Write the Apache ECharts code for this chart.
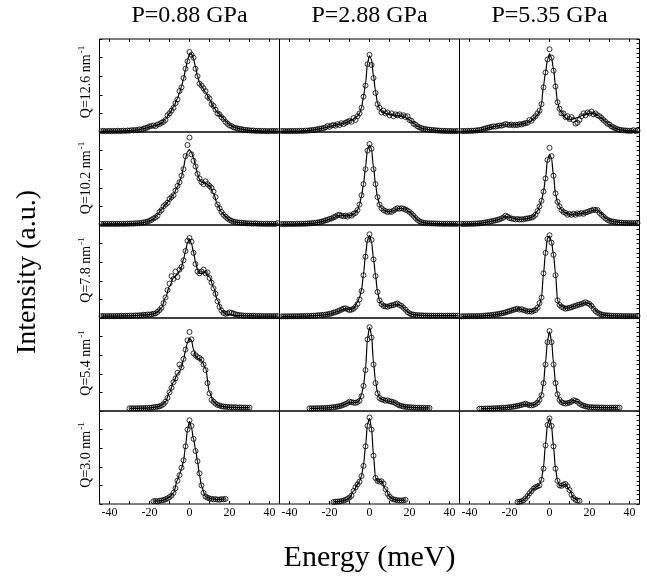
<!DOCTYPE html>
<html><head><meta charset="utf-8">
<script src="https://cdn.jsdelivr.net/npm/echarts@6/dist/echarts.min.js"></script>
<style>html,body{margin:0;padding:0;background:#fff}#c{width:647px;height:579px}</style>
</head><body><div id="c"></div>
<script>
// ---------- labels ----------
const PRESSURES = ['P=0.88 GPa', 'P=2.88 GPa', 'P=5.35 GPa'];
const Q_VALUES = ['Q=12.6 nm', 'Q=10.2 nm', 'Q=7.8 nm', 'Q=5.4 nm', 'Q=3.0 nm'];
const X_TITLE = 'Energy (meV)';
const Y_TITLE = 'Intensity (a.u.)';
const E_TICKS = [-40, -30, -20, -10, 0, 10, 20, 30, 40];
const E_LABELS = [-40, -20, 0, 20, 40];

// ---------- energy grids ----------
const E_FIT = [-44,-42,-40,-38,-36,-34,-32,-30,-28,-26,-24,-22,-20,-18,-16,-14,-12,-10,-8,-6,
  -5,-4,-3,-2,-1,0,1,2,3,4,5,
  6,8,10,12,14,16,18,20,22,24,26,28,30,32,34,36,38,40,42,44];
const E_PTS = [-44,-43,-42,-41,-40,-39,-38,-37,-36,-35,-34,-33,-32,-31,-30,-29,-28,-27,-26,-25,
  -24,-23,-22,-21,-20,-19,-18,-17,-16,-15,-14,-13,-12,-11,-10,-9,-8,-7,-6,-5,
  -4,-3,-2,-1,0,1,2,3,4,5,6,7,8,9,10,11,12,13,14,15,16,17,18,19,20,21,22,23,24,25,
  26,27,28,29,30,31,32,33,34,35,36,37,38,39,40,41,42,43,44];

// ---------- fitted curves (on E_FIT) ----------
const fit_126_088 = [.01,.01,.01,.01,.01,.012,.013,.015,.018,.022,.03,.04,.055,.065,.075,.095,.14,.2,.27,.36,
  .42,.49,.57,.67,.77,.84,.84,.79,.7,.6,.53,
  .49,.43,.35,.27,.21,.17,.12,.08,.055,.04,.03,.022,.017,.014,.012,.011,.01,.01,.01,.01];
const fit_126_288 = [.01,.01,.01,.01,.01,.012,.014,.017,.022,.03,.038,.048,.06,.07,.078,.088,.1,.12,.14,.17,
  .2,.26,.38,.52,.74,.82,.78,.6,.44,.31,.25,
  .22,.2,.19,.18,.175,.17,.155,.13,.095,.06,.04,.03,.024,.02,.016,.013,.011,.01,.01,.01];
const fit_126_535 = [.01,.01,.011,.013,.016,.022,.035,.048,.058,.065,.072,.078,.078,.076,.08,.085,.095,.11,.14,.185,
  .22,.3,.5,.64,.78,.84,.8,.68,.5,.32,.24,
  .21,.15,.13,.14,.155,.175,.19,.2,.2,.18,.15,.11,.075,.048,.03,.022,.017,.014,.012,.011];

const fit_102_088 = [.012,.012,.012,.012,.012,.013,.013,.014,.015,.018,.022,.03,.045,.065,.11,.17,.22,.27,.33,.41,
  .47,.52,.62,.72,.79,.81,.78,.72,.64,.55,.49,
  .46,.45,.42,.34,.22,.14,.09,.055,.035,.028,.024,.02,.017,.015,.014,.013,.012,.012,.012,.012];
const fit_102_288 = [.01,.01,.01,.011,.012,.013,.015,.017,.02,.027,.036,.048,.062,.08,.1,.105,.097,.1,.115,.16,
  .22,.31,.44,.62,.82,.86,.82,.62,.44,.3,.22,
  .18,.15,.14,.155,.175,.18,.17,.14,.1,.055,.03,.021,.018,.016,.015,.014,.013,.013,.013,.013];
const fit_102_535 = [.012,.012,.013,.014,.016,.02,.028,.036,.045,.055,.07,.09,.085,.07,.062,.062,.065,.074,.09,.15,
  .2,.26,.36,.5,.7,.76,.72,.53,.33,.25,.2,
  .16,.13,.115,.115,.12,.125,.13,.145,.16,.16,.125,.075,.05,.036,.03,.026,.023,.021,.02,.02];

const fit_78_088 = [.02,.02,.02,.02,.021,.022,.023,.024,.025,.027,.03,.033,.036,.045,.065,.11,.22,.34,.43,.47,
  .5,.55,.63,.72,.81,.85,.8,.71,.6,.52,.48,
  .48,.49,.44,.33,.19,.08,.045,.035,.03,.027,.025,.024,.023,.022,.021,.02,.02,.02,.02,.02];
const fit_78_288 = [.017,.017,.018,.018,.019,.02,.021,.022,.024,.027,.03,.035,.042,.055,.07,.088,.1,.09,.1,.17,
  .22,.3,.47,.68,.84,.89,.82,.64,.46,.28,.19,
  .145,.125,.13,.14,.15,.13,.085,.05,.036,.03,.028,.026,.025,.025,.025,.025,.025,.025,.025,.025];
const fit_78_535 = [.018,.018,.019,.02,.021,.022,.025,.028,.033,.04,.047,.055,.07,.085,.098,.092,.078,.068,.075,.11,
  .15,.22,.48,.7,.86,.88,.82,.68,.48,.19,.14,
  .125,.105,.11,.125,.14,.15,.165,.155,.11,.06,.038,.03,.026,.024,.022,.021,.02,.02,.02,.02];

const fit_54_088 = [null,null,null,null,null,null,null,.028,.028,.029,.03,.031,.033,.038,.045,.06,.1,.2,.31,.4,
  .42,.47,.55,.65,.74,.78,.76,.66,.59,.57,.56,
  .54,.46,.2,.1,.065,.05,.044,.04,.038,.037,.036,.036,.036,null,null,null,null,null,null,null];
const fit_54_288 = [null,null,null,null,null,null,null,.028,.028,.029,.03,.032,.035,.04,.047,.058,.075,.095,.09,.095,
  .12,.18,.27,.45,.78,.9,.82,.52,.32,.2,.14,
  .125,.11,.105,.095,.07,.055,.044,.04,.037,.035,.034,.033,.032,null,null,null,null,null,null,null];
const fit_54_535 = [null,null,null,null,null,.025,.026,.027,.028,.03,.033,.036,.04,.047,.055,.065,.075,.062,.066,.09,
  .12,.18,.3,.52,.76,.85,.76,.52,.3,.18,.12,
  .09,.08,.09,.115,.1,.07,.05,.042,.039,.038,.037,.036,.036,.036,.036,null,null,null,null,null];

const fit_30_088 = [null,null,null,null,null,null,null,null,null,null,null,null,null,.03,.032,.036,.05,.075,.12,.26,
  .32,.38,.46,.62,.8,.89,.82,.7,.59,.46,.31,
  .19,.08,.06,.052,.048,.05,.054,null,null,null,null,null,null,null,null,null,null,null,null,null];
const fit_30_288 = [null,null,null,null,null,null,null,null,null,null,null,null,null,.022,.026,.032,.045,.065,.14,.21,
  .245,.3,.42,.62,.86,.92,.82,.52,.28,.245,.245,
  .24,.16,.08,.05,.04,.038,.042,null,null,null,null,null,null,null,null,null,null,null,null,null];
const fit_30_535 = [null,null,null,null,null,null,null,null,null,null,null,null,null,null,.022,.03,.06,.115,.165,.19,
  .21,.26,.4,.64,.86,.92,.84,.62,.38,.25,.2,
  .195,.215,.15,.065,.038,null,null,null,null,null,null,null,null,null,null,null,null,null,null,null];

// ---------- measured points (on E_PTS, starting at the energy in PTS_FROM) ----------
const PTS_FROM = [[-44,-44,-44],[-44,-44,-44],[-44,-44,-44],[-30,-30,-35],[-18,-18,-16]];

const pts_126_088 = [.01,.012,.008,.01,.012,.009,.011,.01,.013,.01,
  .012,.014,.011,.016,.014,.02,.017,.022,.02,.028,
  .025,.035,.042,.048,.06,.065,.07,.062,.08,.085,
  .1,.11,.13,.18,.2,.23,.26,.31,.35,.44,
  .48,.58,.68,.76,.86,.83,.8,.68,.6,.52,
  .5,.47,.44,.38,.36,.3,.28,.24,.2,.19,
  .16,.14,.11,.09,.07,.065,.05,.045,.038,.034,
  .03,.025,.022,.02,.018,.015,.016,.012,.013,.011,
  .012,.01,.011,.009,.01,.012,.01,.011,.01];
const pts_126_288 = [.01,.011,.01,.009,.011,.01,.012,.011,.01,.012,
  .013,.012,.015,.014,.018,.02,.022,.025,.03,.035,
  .038,.042,.05,.065,.055,.07,.075,.068,.085,.075,
  .095,.085,.1,.11,.12,.11,.15,.13,.17,.2,
  .26,.38,.5,.73,.83,.72,.58,.42,.3,.26,
  .21,.23,.2,.21,.18,.2,.17,.19,.18,.19,
  .17,.18,.16,.17,.13,.12,.09,.08,.06,.05,
  .042,.035,.03,.028,.025,.022,.02,.018,.016,.015,
  .013,.012,.011,.01,.011,.01,.009,.01,.01];
const pts_126_535 = [.01,.011,.01,.012,.011,.013,.014,.016,.018,.022,
  .025,.032,.038,.045,.05,.055,.06,.058,.065,.07,
  .068,.075,.085,.08,.075,.08,.072,.078,.075,.085,
  .08,.09,.095,.1,.13,.12,.15,.17,.2,.23,
  .3,.48,.64,.78,.89,.8,.66,.49,.32,.25,
  .2,.2,.16,.17,.14,.16,.13,.09,.1,.13,
  .17,.2,.18,.21,.2,.22,.19,.2,.18,.17,
  .15,.13,.11,.09,.08,.06,.05,.04,.03,.025,
  .02,.018,.016,.014,.013,.012,.02,.011,.015];

const pts_102_088 = [.012,.01,.013,.012,.011,.013,.012,.011,.013,.012,
  .014,.012,.013,.015,.014,.016,.015,.018,.017,.02,
  .022,.028,.03,.038,.045,.055,.07,.08,.1,.14,
  .16,.2,.22,.24,.28,.3,.32,.37,.42,.46,
  .53,.6,.74,.86,.94,.76,.69,.63,.55,.5,
  .46,.44,.47,.44,.42,.4,.36,.3,.22,.18,
  .14,.11,.09,.07,.055,.045,.035,.032,.028,.025,
  .024,.022,.02,.018,.017,.016,.015,.018,.014,.013,
  .014,.012,.013,.012,.012,.014,.012,.011,.02];
const pts_102_288 = [.01,.011,.01,.012,.011,.012,.011,.012,.013,.012,
  .014,.013,.015,.016,.017,.019,.021,.024,.027,.032,
  .036,.042,.05,.055,.065,.07,.082,.09,.105,.11,
  .1,.095,.1,.09,.105,.1,.12,.13,.16,.22,
  .32,.44,.6,.8,.87,.82,.6,.44,.3,.22,
  .18,.16,.15,.14,.145,.14,.155,.17,.18,.175,
  .18,.175,.165,.155,.14,.12,.1,.075,.055,.04,
  .03,.024,.02,.019,.018,.017,.016,.016,.015,.014,
  .014,.013,.013,.014,.013,.012,.013,.012,.013];
const pts_102_535 = [.012,.011,.012,.013,.012,.014,.013,.015,.016,.018,
  .02,.024,.028,.032,.036,.04,.045,.05,.055,.062,
  .07,.08,.1,.09,.075,.07,.065,.06,.065,.058,
  .062,.06,.068,.07,.075,.08,.09,.11,.15,.2,
  .26,.36,.5,.7,.83,.74,.53,.34,.25,.2,
  .16,.14,.13,.11,.12,.11,.12,.11,.125,.12,
  .13,.12,.135,.14,.15,.155,.165,.16,.16,.13,
  .11,.09,.07,.055,.045,.04,.035,.032,.028,.026,
  .025,.023,.022,.021,.02,.021,.02,.022,.02];

const pts_78_088 = [.02,.022,.019,.021,.02,.022,.02,.021,.022,.02,
  .025,.022,.024,.023,.025,.026,.024,.028,.026,.03,
  .028,.035,.032,.038,.036,.04,.045,.05,.065,.085,
  .11,.16,.22,.3,.37,.45,.42,.5,.44,.52,
  .55,.62,.72,.83,.86,.82,.7,.58,.5,.48,
  .5,.52,.48,.49,.43,.38,.32,.26,.18,.12,
  .08,.055,.045,.05,.06,.055,.048,.04,.035,.03,
  .028,.026,.025,.024,.024,.022,.023,.022,.021,.022,
  .02,.021,.02,.02,.021,.02,.02,.021,.02];
const pts_78_288 = [.017,.018,.017,.018,.018,.019,.018,.02,.019,.02,
  .021,.02,.022,.023,.022,.024,.025,.026,.028,.03,
  .032,.034,.036,.04,.044,.05,.058,.062,.072,.08,
  .09,.1,.105,.095,.085,.09,.1,.12,.15,.2,
  .29,.46,.66,.84,.9,.84,.63,.45,.28,.19,
  .15,.13,.125,.12,.13,.135,.14,.15,.155,.14,
  .13,.11,.09,.065,.05,.04,.036,.032,.03,.029,
  .028,.027,.026,.026,.025,.026,.025,.025,.024,.025,
  .025,.024,.025,.025,.024,.025,.025,.024,.025];
const pts_78_535 = [.018,.019,.018,.02,.019,.02,.021,.02,.022,.021,
  .023,.024,.026,.028,.03,.032,.035,.038,.042,.045,
  .05,.055,.06,.068,.075,.08,.088,.095,.1,.09,
  .095,.085,.08,.07,.072,.068,.078,.085,.11,.16,
  .22,.48,.7,.85,.89,.81,.68,.46,.19,.14,
  .12,.11,.1,.105,.11,.115,.125,.13,.14,.145,
  .15,.16,.17,.16,.15,.13,.1,.075,.058,.045,
  .038,.032,.03,.028,.026,.025,.024,.023,.022,.022,
  .021,.02,.02,.021,.02,.02,.02,.021,.02];

const pts_54_088 = [.028,.03,.028,.029,.03,.029,.031,.03,.032,.033,
  .034,.036,.04,.042,.046,.05,.06,.075,.1,.14,
  .2,.25,.31,.35,.41,.5,.47,.56,.66,.76,
  .85,.77,.62,.6,.58,.57,.55,.5,.44,.3,
  .19,.12,.1,.08,.065,.06,.05,.048,.045,.044,
  .04,.042,.038,.04,.037,.038,.036,.037,.036,.035,
  .036];
const pts_54_288 = [.028,.029,.028,.03,.029,.03,.031,.032,.033,.034,
  .036,.038,.04,.043,.048,.052,.058,.066,.075,.085,
  .1,.095,.09,.088,.095,.11,.16,.27,.44,.77,
  .9,.79,.5,.3,.19,.14,.125,.12,.11,.115,
  .105,.1,.095,.085,.07,.06,.055,.048,.045,.042,
  .04,.039,.037,.036,.035,.035,.034,.034,.033,.033,
  .032];
const pts_54_535 = [.025,.026,.025,.026,.027,.027,.028,.028,.03,.03,
  .032,.033,.035,.036,.038,.04,.044,.047,.05,.055,
  .06,.065,.072,.078,.07,.062,.06,.065,.075,.09,
  .12,.17,.3,.5,.74,.86,.74,.5,.3,.18,
  .12,.095,.085,.08,.085,.09,.1,.115,.11,.1,
  .08,.065,.058,.05,.045,.042,.04,.039,.038,.038,
  .037,.037,.036,.036,.036,.035,.036,.035,.036,.035,
  .036];

const pts_30_088 = [.03,.032,.028,.035,.038,.042,.05,.06,.075,.09,
  .12,.17,.25,.31,.39,.47,.62,.8,.9,.84,
  .7,.57,.46,.33,.2,.12,.08,.068,.06,.055,
  .05,.052,.048,.047,.052,.05,.055];
const pts_30_288 = [.022,.024,.026,.028,.032,.036,.045,.055,.07,.09,
  .14,.18,.21,.24,.3,.41,.62,.84,.93,.8,
  .52,.28,.25,.24,.245,.22,.16,.11,.08,.06,
  .05,.045,.04,.038,.037,.04,.045];
const pts_30_535 = [.022,.025,.03,.04,.06,.085,.115,.14,.165,.18,
  .19,.2,.26,.38,.63,.85,.92,.84,.62,.38,
  .25,.2,.195,.21,.215,.19,.15,.1,.065,.045,
  .038,.035];

const FITS = [
  [fit_126_088, fit_126_288, fit_126_535],
  [fit_102_088, fit_102_288, fit_102_535],
  [fit_78_088, fit_78_288, fit_78_535],
  [fit_54_088, fit_54_288, fit_54_535],
  [fit_30_088, fit_30_288, fit_30_535]
];
const PTS = [
  [pts_126_088, pts_126_288, pts_126_535],
  [pts_102_088, pts_102_288, pts_102_535],
  [pts_78_088, pts_78_288, pts_78_535],
  [pts_54_088, pts_54_288, pts_54_535],
  [pts_30_088, pts_30_288, pts_30_535]
];

// ---------- build chart ----------
const FONT = '"Liberation Serif", "Times New Roman", serif';
const PANEL_L = 99.5, PANEL_T = 39, PANEL_W = 180, PANEL_H = 93;
const ROW_LABEL_Y = [82, 178, 270, 363, 455];

const grids = [], xAxes = [], yAxes = [], series = [];
for (let r = 0; r < 5; r++) {
  for (let c = 0; c < 3; c++) {
    const g = grids.length;
    grids.push({left: PANEL_L + c * PANEL_W, top: PANEL_T + r * PANEL_H, width: PANEL_W, height: PANEL_H,
      show: true, borderColor: '#000', borderWidth: 1, backgroundColor: 'transparent'});
    const xi = xAxes.length;
    xAxes.push({type: 'value', gridIndex: g, min: -45, max: 45, position: 'bottom',
      axisLine: {show: false, onZero: false}, splitLine: {show: false},
      axisTick: {show: r === 4, inside: true, length: 3, lineStyle: {color: '#000', width: 1}, customValues: E_TICKS},
      axisLabel: {show: r === 4, customValues: E_LABELS, color: '#000', fontFamily: FONT, fontSize: 12, margin: 3}});
    if (r === 0) {
      xAxes.push({type: 'value', gridIndex: g, min: -45, max: 45, position: 'top',
        axisLine: {show: false, onZero: false}, splitLine: {show: false},
        axisTick: {show: true, inside: true, length: 3, lineStyle: {color: '#000', width: 1}, customValues: E_TICKS},
        axisLabel: {show: false}});
    }
    const yi = yAxes.length;
    yAxes.push({type: 'value', gridIndex: g, min: 0, max: 1, interval: 0.2, position: 'left',
      axisLine: {show: false, onZero: false}, splitLine: {show: false}, axisLabel: {show: false},
      axisTick: {show: c === 0, inside: true, length: 3, lineStyle: {color: '#000', width: 1}}});
    if (c === 2) {
      yAxes.push({type: 'value', gridIndex: g, min: 0, max: 1, interval: 0.05, position: 'right',
        axisLine: {show: false, onZero: false}, splitLine: {show: false}, axisLabel: {show: false},
        axisTick: {show: true, inside: true, length: 3, lineStyle: {color: '#000', width: 1}}});
    }
    const fit = FITS[r][c];
    const fitData = [];
    E_FIT.forEach((e, i) => { if (fit[i] != null) fitData.push([e, fit[i]]); });
    const pts = PTS[r][c];
    const start = E_PTS.indexOf(PTS_FROM[r][c]);
    const ptData = pts.map((v, i) => [E_PTS[start + i], v]);
    series.push({type: 'line', xAxisIndex: xi, yAxisIndex: yi, data: fitData, symbol: 'none',
      smooth: 0.3, smoothMonotone: 'x', lineStyle: {color: '#000', width: 1.2}, silent: true, z: 2});
    series.push({type: 'scatter', xAxisIndex: xi, yAxisIndex: yi, data: ptData, symbol: 'circle', symbolSize: 5,
      itemStyle: {color: 'rgba(255,255,255,0)', borderColor: '#000', borderWidth: 1}, silent: true, z: 3});
  }
}

const graphics = [];
PRESSURES.forEach((p, c) => {
  graphics.push({type: 'text', x: PANEL_L + c * PANEL_W + PANEL_W / 2, y: 15.5,
    style: {text: p, fill: '#000', font: '24px ' + FONT, align: 'center', verticalAlign: 'middle',
      textAlign: 'center', textVerticalAlign: 'middle'}});
});
Q_VALUES.forEach((q, r) => {
  graphics.push({type: 'text', x: 86, y: ROW_LABEL_Y[r], rotation: Math.PI / 2,
    style: {text: '{a|' + q + '}{s|-1}', fill: '#000', align: 'center', verticalAlign: 'middle',
      textAlign: 'center', textVerticalAlign: 'middle',
      rich: {a: {fontSize: 14, fontFamily: FONT, fill: '#000', lineHeight: 16},
             s: {fontSize: 9, fontFamily: FONT, fill: '#000', lineHeight: 16, padding: [0, 0, 8, 1]}}}});
});
graphics.push({type: 'text', x: PANEL_L + 1.5 * PANEL_W, y: 558,
  style: {text: X_TITLE, fill: '#000', font: '30px ' + FONT, align: 'center', verticalAlign: 'middle',
    textAlign: 'center', textVerticalAlign: 'middle'}});
graphics.push({type: 'text', x: 28, y: 272, rotation: Math.PI / 2,
  style: {text: Y_TITLE, fill: '#000', font: '28px ' + FONT, align: 'center', verticalAlign: 'middle',
    textAlign: 'center', textVerticalAlign: 'middle'}});

const chart = echarts.init(document.getElementById('c'), null, {renderer: 'canvas'});
chart.setOption({
  animation: false,
  backgroundColor: '#fff',
  grid: grids, xAxis: xAxes, yAxis: yAxes, series: series,
  graphic: {elements: graphics}
});
</script></body></html>
